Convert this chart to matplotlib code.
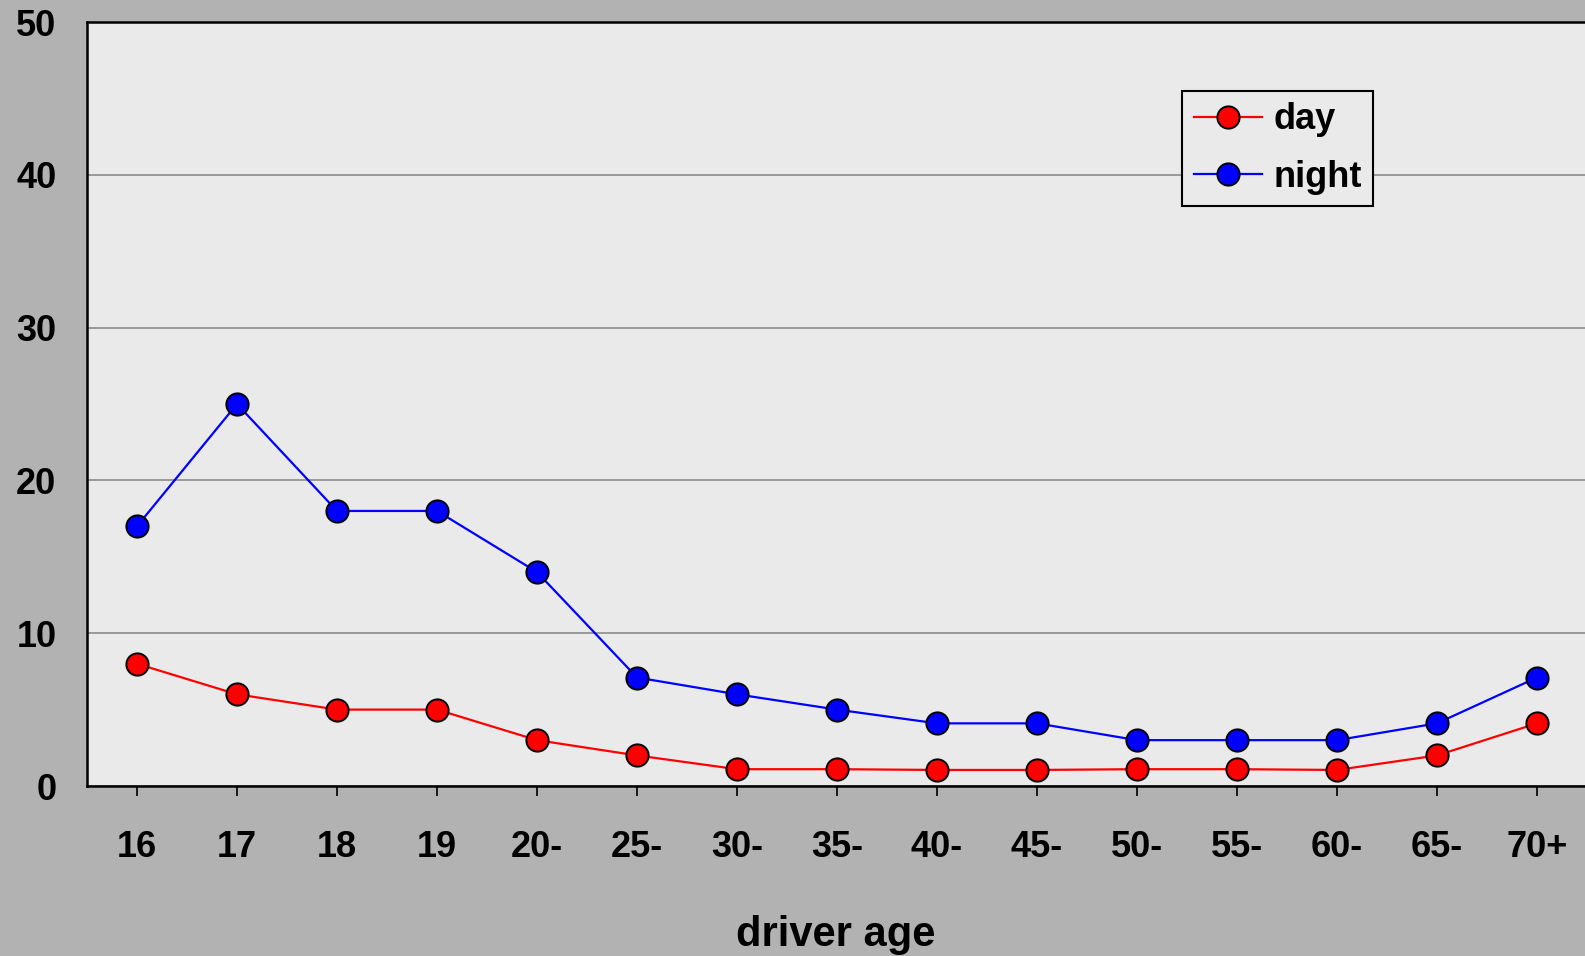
#!/usr/bin/env python3
"""
Day vs night crash rate by driver age.
"""

import matplotlib
matplotlib.use('Agg')
import matplotlib.pyplot as plt

# data
age_groups = ['16', '17', '18', '19', '20-', '25-', '30-', '35-', '40-',
              '45-', '50-', '55-', '60-', '65-', '70+']
day_values = [8, 6, 5, 5, 3, 2, 1.1, 1.1, 1.05, 1.05, 1.1, 1.1, 1.05, 2, 4.1]
night_values = [17, 25, 18, 18, 14, 7.1, 6, 5, 4.1, 4.1, 3, 3, 3, 4.1, 7.1]

plt.rcParams['font.family'] = ['Liberation Sans', 'DejaVu Sans']
plt.rcParams['font.weight'] = 'bold'

W, H = 1585, 956
fig = plt.figure(figsize=(W / 100, H / 100), dpi=100, facecolor='#b2b2b2')
# axes box in pixels: left 87, top 22, bottom 786, right at figure edge
ax = fig.add_axes([87 / W, (H - 786) / H, (W - 87) / W, (786 - 22) / H])
ax.set_facecolor('#eaeaea')

x = range(len(age_groups))
ax.plot(x, day_values, '-o', color='red', lw=1.6, ms=16,
        mfc='red', mec='black', mew=1.4, label='day', zorder=3)
ax.plot(x, night_values, '-o', color='blue', lw=1.6, ms=16,
        mfc='blue', mec='black', mew=1.4, label='night', zorder=3)

ax.set_xlim(-0.5, 14.48)
ax.set_ylim(0, 50)
ax.set_yticks([0, 10, 20, 30, 40, 50])
ax.set_xticks(list(x))
ax.set_xticklabels(age_groups)

ax.yaxis.grid(True, color='#8c8c8c', lw=1.2)
ax.set_axisbelow(True)

for side in ['left', 'bottom', 'top']:
    ax.spines[side].set_color('black')
    ax.spines[side].set_linewidth(1.8)
ax.spines['right'].set_visible(False)

ax.tick_params(axis='y', length=0, pad=22, labelsize=26)
ax.tick_params(axis='x', length=7, width=1.2, pad=25, labelsize=26,
               direction='out')

ax.set_xlabel('driver age', fontsize=30, fontweight='bold', labelpad=36)

leg = ax.legend(loc='upper left', bbox_to_anchor=(0.731, 0.910),
                borderaxespad=0, fontsize=26, fancybox=False,
                edgecolor='black', facecolor='#eaeaea', framealpha=1,
                handlelength=1.9, handletextpad=0.3, labelspacing=0.62,
                borderpad=0.32)
leg.get_frame().set_linewidth(1.5)

fig.savefig('out.png', dpi=100, facecolor=fig.get_facecolor())
plt.close(fig)
